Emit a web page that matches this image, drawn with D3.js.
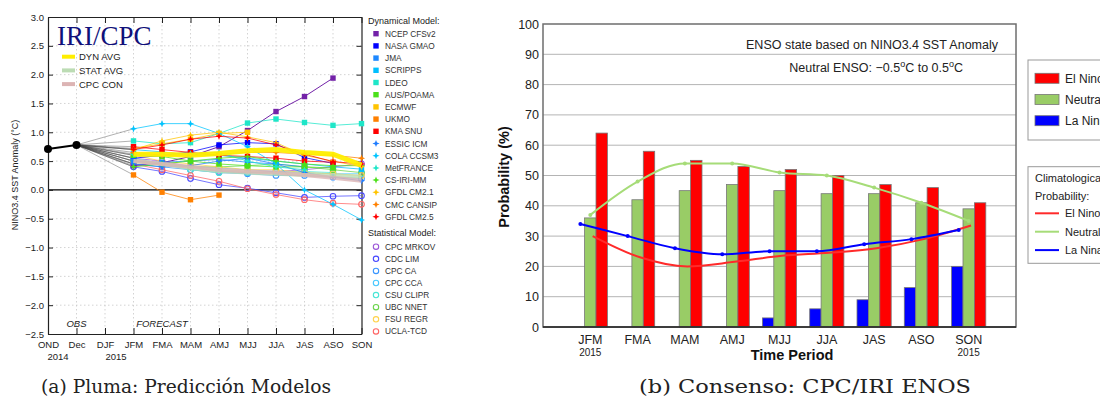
<!DOCTYPE html>
<html>
<head>
<meta charset="utf-8">
<script src="https://cdn.jsdelivr.net/npm/d3@7"></script>
<style>
body { margin: 0; background: #fff; }
svg { font-family: "Liberation Sans", Arial, sans-serif; }
</style>
</head>
<body>
<svg id="fig" width="1100" height="398"></svg>
<script>
// ---- panel (a): plume data ----
const plumeMonths = ['OND', 'Dec', 'DJF', 'JFM', 'FMA', 'MAM', 'AMJ', 'MJJ', 'JJA', 'JAS', 'ASO', 'SON'];
const plumeTicks = [3.0, 2.5, 2.0, 1.5, 1.0, 0.5, 0.0, -0.5, -1.0, -1.5, -2.0, -2.5];
const obsValues = [0.71, 0.78];            // OND, Dec
const forecastStart = 3;                   // first forecast season = JFM

const dynNames = ['NCEP CFSv2', 'NASA GMAO', 'JMA', 'SCRIPPS', 'LDEO', 'AUS/POAMA', 'ECMWF', 'UKMO', 'KMA SNU',
  'ESSIC ICM', 'COLA CCSM3', 'MetFRANCE', 'CS-IRI-MM', 'GFDL CM2.1', 'CMC CANSIP', 'GFDL CM2.5'];
const dynColors = ['#7322a8', '#0000ff', '#1e88ff', '#00bfff', '#1ee6c8', '#4ce01a', '#ffc400', '#ff8000', '#ff0000',
  '#1e7cff', '#00c4ff', '#1ee6c8', '#4ce01a', '#ffc400', '#ff8000', '#ff0000'];
const dynValues = [
  [0.42, 0.47, 0.58, 0.75, 1.03, 1.36, 1.62, 1.94, null],
  [0.55, 0.60, 0.66, 0.78, 0.82, 0.80, 0.56, 0.46, null],
  [0.50, 0.48, 0.50, 0.53, 0.48, 0.45, 0.40, null, null],
  [0.70, 0.66, 0.60, 0.60, 0.55, 0.50, 0.45, 0.40, 0.36],
  [0.85, 0.80, 0.82, 0.98, 1.16, 1.23, 1.17, 1.12, 1.15],
  [0.60, 0.58, 0.50, 0.45, 0.42, 0.40, 0.40, 0.38, null],
  [0.72, 0.80, 0.88, 0.98, 1.00, null, null, null, null],
  [0.26, -0.04, -0.17, -0.09, null, null, null, null, null],
  [0.75, 0.70, 0.65, 0.60, 0.58, 0.55, 0.50, 0.48, null],
  [0.45, 0.40, 0.42, 0.50, 0.55, 0.45, 0.30, 0.22, 0.16],
  [1.06, 1.15, 1.15, 0.98, 0.75, 0.45, 0.00, -0.25, -0.52],
  [0.62, 0.60, 0.63, 0.65, 0.50, 0.40, 0.35, null, null],
  [0.40, 0.45, 0.50, 0.55, 0.58, 0.50, 0.45, 0.42, 0.42],
  [0.70, 0.85, 0.95, 1.00, 0.92, 0.82, 0.60, 0.50, 0.40],
  [0.65, 0.60, 0.60, 0.62, 0.65, 0.65, 0.62, 0.60, 0.55],
  [0.70, 0.78, 0.88, 0.93, 0.90, 0.78, 0.62, 0.49, 0.45]
];

const statNames = ['CPC MRKOV', 'CDC LIM', 'CPC CA', 'CPC CCA', 'CSU CLIPR', 'UBC NNET', 'FSU REGR', 'UCLA-TCD'];
const statColors = ['#9a55d8', '#4848ff', '#3a96ff', '#48c8ff', '#48e6d6', '#6ad44a', '#ffd24a', '#ff6464'];
const statValues = [
  [0.55, 0.50, 0.40, 0.32, 0.30, 0.32, 0.35, 0.40, 0.45],
  [0.40, 0.32, 0.20, 0.09, 0.03, -0.05, -0.13, -0.11, -0.10],
  [0.45, 0.40, 0.35, 0.30, 0.28, 0.25, 0.25, 0.22, 0.20],
  [0.50, 0.45, 0.40, 0.38, 0.35, 0.32, 0.30, 0.28, 0.28],
  [0.55, 0.45, 0.35, 0.30, 0.30, 0.30, 0.32, 0.30, null],
  [0.50, 0.45, 0.40, 0.40, 0.42, 0.45, 0.40, 0.35, 0.30],
  [0.60, 0.50, 0.45, 0.40, 0.35, 0.35, 0.30, 0.28, 0.25],
  [0.45, 0.35, 0.25, 0.15, 0.02, -0.08, -0.17, -0.23, -0.25]
];

const avgNames = ['DYN AVG', 'STAT AVG', 'CPC CON'];
const avgColors = ['#ffee00', '#bcdcb4', '#dcb4b4'];
const avgValues = [
  [0.62, 0.62, 0.60, 0.63, 0.68, 0.70, 0.65, 0.62, 0.43],
  [0.50, 0.45, 0.38, 0.33, 0.30, 0.28, 0.26, 0.25, 0.23],
  [0.50, 0.45, 0.40, 0.35, 0.32, 0.30, 0.26, 0.21, 0.16]
];

// ---- panel (b): consensus data ----
const seasons = ['JFM', 'FMA', 'MAM', 'AMJ', 'MJJ', 'JJA', 'JAS', 'ASO', 'SON'];
const laNina = [0, 0, 0, 0, 3, 6, 9, 13, 20];
const neutral = [36, 42, 45, 47, 45, 44, 44, 41, 39];
const elNino = [64, 58, 55, 53, 52, 50, 47, 46, 41];
const climElNino = [30, 23, 20, 21.5, 23.5, 24.5, 26, 29, 33.5];
const climNeutral = [37, 48, 54, 54, 51, 50, 46, 41, 35];
const climLaNina = [34, 30, 26, 24, 25, 25, 27.3, 29, 32];
const probTicks = [0, 10, 20, 30, 40, 50, 60, 70, 80, 90, 100];

const svg = d3.select('#fig');

// =============== panel (a) ===============
const xL = d3.scaleLinear().domain([0, 11]).range([48, 361.5]);
const yL = d3.scaleLinear().domain([-2.5, 3]).range([334, 17]);
const pa = svg.append('g');

// dotted grid
pa.selectAll('.gy').data(plumeTicks.filter(d => d != 0 && d != 3 && d != -2.5)).enter().append('line')
  .attr('x1', xL(0)).attr('x2', xL(11)).attr('y1', d => yL(d)).attr('y2', d => yL(d))
  .attr('stroke', '#c8c8c8').attr('stroke-width', 0.8).attr('stroke-dasharray', '1.5,2.5');
pa.selectAll('.gx').data(d3.range(1, 11)).enter().append('line')
  .attr('x1', d => xL(d)).attr('x2', d => xL(d)).attr('y1', yL(3)).attr('y2', yL(-2.5))
  .attr('stroke', '#c8c8c8').attr('stroke-width', 0.8).attr('stroke-dasharray', '1.5,2.5');

// zero line
pa.append('line').attr('x1', xL(0)).attr('x2', xL(11)).attr('y1', yL(0)).attr('y2', yL(0))
  .attr('stroke', '#000').attr('stroke-width', 1.3);

// axes (ticks pointing inward)
function styleAxis(g) {
  g.select('.domain').attr('stroke', '#222').attr('stroke-width', 1.2);
  g.selectAll('.tick line').attr('stroke', '#222');
  g.selectAll('text').attr('fill', '#222').style('font-size', '9.5px')
    .style('font-family', '"Liberation Sans", Arial, sans-serif');
}
pa.append('g').attr('transform', `translate(${xL(0)},0)`)
  .call(d3.axisLeft(yL).tickValues(plumeTicks).tickFormat(d3.format('.1f')).tickSizeInner(-5).tickSizeOuter(0).tickPadding(4))
  .call(styleAxis);
pa.append('g').attr('transform', `translate(${xL(11)},0)`)
  .call(d3.axisRight(yL).tickValues(plumeTicks).tickFormat('').tickSizeInner(-5).tickSizeOuter(0))
  .call(styleAxis);
pa.append('g').attr('transform', `translate(0,${yL(-2.5)})`)
  .call(d3.axisBottom(xL).tickValues(d3.range(12)).tickFormat(i => plumeMonths[i]).tickSizeInner(-6).tickSizeOuter(0).tickPadding(7))
  .call(styleAxis);
pa.append('g').attr('transform', `translate(0,${yL(3)})`)
  .call(d3.axisTop(xL).tickValues(d3.range(12)).tickFormat('').tickSizeInner(-6).tickSizeOuter(0))
  .call(styleAxis);

pa.append('text').attr('x', 58).attr('y', 360).attr('text-anchor', 'middle').style('font-size', '9.5px').attr('fill', '#222').text('2014');
pa.append('text').attr('x', 116).attr('y', 360).attr('text-anchor', 'middle').style('font-size', '9.5px').attr('fill', '#222').text('2015');
pa.append('text').attr('x', xL(1)).attr('y', 327).attr('text-anchor', 'middle').style('font-size', '9.5px')
  .style('font-style', 'italic').attr('fill', '#222').text('OBS');
pa.append('text').attr('x', 162).attr('y', 327).attr('text-anchor', 'middle').style('font-size', '9.5px')
  .style('font-style', 'italic').attr('fill', '#222').text('FORECAST');

pa.append('text').attr('transform', 'translate(18,175) rotate(-90)').attr('text-anchor', 'middle')
  .style('font-size', '9px').attr('fill', '#222').text('NINO3.4 SST Anomaly (\u00B0C)');

// model lines
const lineL = d3.line().defined(d => d.v != null).x(d => xL(d.i)).y(d => yL(d.v));
const toPts = vals => vals.map((v, k) => ({ i: forecastStart + k, v: v }));

const allFirst = dynValues.concat(statValues).map(v => v[0]);
pa.selectAll('.fan').data(allFirst).enter().append('line')
  .attr('x1', xL(1)).attr('y1', yL(obsValues[1]))
  .attr('x2', xL(forecastStart)).attr('y2', d => yL(d))
  .attr('stroke', '#444').attr('stroke-width', 0.6).attr('opacity', 0.7);

const starPath = 'M0,-3.6L1,-1L3.6,0L1,1L0,3.6L-1,1L-3.6,0L-1,-1Z';

statValues.forEach((vals, m) => {
  const pts = toPts(vals);
  pa.append('path').attr('d', lineL(pts)).attr('fill', 'none')
    .attr('stroke', statColors[m]).attr('stroke-width', 1).attr('opacity', 0.75);
  pa.selectAll(null).data(pts.filter(d => d.v != null)).enter().append('circle')
    .attr('cx', d => xL(d.i)).attr('cy', d => yL(d.v)).attr('r', 2.8)
    .attr('fill', 'none').attr('stroke', statColors[m]).attr('stroke-width', 1.1);
});

dynValues.forEach((vals, m) => {
  const pts = toPts(vals);
  pa.append('path').attr('d', lineL(pts)).attr('fill', 'none')
    .attr('stroke', dynColors[m]).attr('stroke-width', 1).attr('opacity', m == 0 ? 1 : 0.75);
  const pv = pts.filter(d => d.v != null);
  if (m < 9) {
    pa.selectAll(null).data(pv).enter().append('rect')
      .attr('x', d => xL(d.i) - 2.7).attr('y', d => yL(d.v) - 2.7).attr('width', 5.4).attr('height', 5.4)
      .attr('fill', dynColors[m]);
  } else {
    pa.selectAll(null).data(pv).enter().append('path')
      .attr('transform', d => `translate(${xL(d.i)},${yL(d.v)})`).attr('d', starPath)
      .attr('fill', dynColors[m]);
  }
});

avgValues.forEach((vals, m) => {
  pa.append('path').attr('d', lineL(toPts(vals))).attr('fill', 'none')
    .attr('stroke', avgColors[m]).attr('stroke-width', m == 0 ? 5 : 4).attr('opacity', m == 0 ? 0.95 : 0.8);
});

// observations
const obsPts = obsValues.map((v, i) => ({ i: i, v: v }));
pa.append('path').attr('d', lineL(obsPts)).attr('stroke', '#000').attr('stroke-width', 2).attr('fill', 'none');
pa.selectAll('.obs').data(obsPts).enter().append('circle')
  .attr('cx', d => xL(d.i)).attr('cy', d => yL(d.v)).attr('r', 4).attr('fill', '#000');

// title + average legend
pa.append('text').attr('x', 57).attr('y', 45).style('font-family', '"Liberation Serif", "Times New Roman", serif')
  .style('font-size', '27px').attr('fill', '#10107a').text('IRI/CPC');
avgNames.forEach((n, k) => {
  const yy = 56.7 + k * 13.7;
  pa.append('line').attr('x1', 62).attr('x2', 75).attr('y1', yy).attr('y2', yy)
    .attr('stroke', avgColors[k]).attr('stroke-width', 4);
  pa.append('text').attr('x', 79).attr('y', yy + 3.5).style('font-size', '9.5px').attr('fill', '#222').text(n);
});

// model legend
const lg = svg.append('g');
lg.append('text').attr('x', 368).attr('y', 24).style('font-size', '9px').attr('fill', '#222').text('Dynamical Model:');
dynNames.forEach((n, k) => {
  const yy = 33.7 + k * 12.2;
  if (k < 9) {
    lg.append('rect').attr('x', 373.3).attr('y', yy - 2.7).attr('width', 5.4).attr('height', 5.4).attr('fill', dynColors[k]);
  } else {
    lg.append('path').attr('transform', `translate(376,${yy})`).attr('d', starPath).attr('fill', dynColors[k]);
  }
  lg.append('text').attr('x', 385).attr('y', yy + 3).style('font-size', '8.3px').attr('fill', '#333').text(n);
});
lg.append('text').attr('x', 368).attr('y', 236).style('font-size', '9px').attr('fill', '#222').text('Statistical Model:');
statNames.forEach((n, k) => {
  const yy = 246.7 + k * 12.1;
  lg.append('circle').attr('cx', 376).attr('cy', yy).attr('r', 2.7).attr('fill', 'none')
    .attr('stroke', statColors[k]).attr('stroke-width', 1.1);
  lg.append('text').attr('x', 385).attr('y', yy + 3).style('font-size', '8.3px').attr('fill', '#333').text(n);
});

// =============== panel (b) ===============
const xR = d3.scaleLinear().domain([0, 10]).range([543, 1016]);
const yR = d3.scaleLinear().domain([0, 100]).range([327, 24]);
const pb = svg.append('g');

pb.selectAll('.hg').data(probTicks.slice(1, -1)).enter().append('line')
  .attr('x1', xR(0)).attr('x2', xR(10)).attr('y1', d => yR(d)).attr('y2', d => yR(d))
  .attr('stroke', '#b4b4b4').attr('stroke-width', 1);

const yAxR = pb.append('g').attr('transform', `translate(${xR(0)},0)`)
  .call(d3.axisLeft(yR).tickValues(probTicks).tickSize(0).tickPadding(4));
yAxR.select('.domain').remove();
yAxR.selectAll('text').style('font-size', '12.5px').attr('fill', '#222')
  .style('font-family', '"Liberation Sans", Arial, sans-serif');

const barW = 11.4;
const groups = [
  { vals: laNina, fill: '#0000ff', off: -1.5 },
  { vals: neutral, fill: '#99cc66', off: -0.5 },
  { vals: elNino, fill: '#ff0000', off: 0.5 }
];
groups.forEach(g => {
  pb.selectAll(null).data(g.vals.map((v, i) => ({ i: i, v: v })).filter(d => d.v > 0)).enter().append('rect')
    .attr('x', d => xR(d.i + 1) + g.off * barW)
    .attr('y', d => yR(d.v)).attr('width', barW).attr('height', d => yR(0) - yR(d.v))
    .attr('fill', g.fill).attr('stroke', '#777').attr('stroke-width', 0.8);
});

// climatology lines
const climLine = d3.line().curve(d3.curveMonotoneX).x(d => d.x).y(d => yR(d.v));
const clims = [
  { vals: climElNino, color: '#ff2a2a', off: 0.05, dots: false },
  { vals: climNeutral, color: '#a6dc78', off: 0, dots: true },
  { vals: climLaNina, color: '#0000ff', off: -0.21, dots: true }
];
clims.forEach(c => {
  const pts = c.vals.map((v, i) => ({ x: xR(i + 1 + c.off), v: v }));
  pb.append('path').attr('d', climLine(pts)).attr('fill', 'none').attr('stroke', c.color).attr('stroke-width', 2);
  if (c.dots) {
    pb.selectAll(null).data(pts).enter().append('circle')
      .attr('cx', d => d.x).attr('cy', d => yR(d.v)).attr('r', 2).attr('fill', c.color);
  }
});

// frame
pb.append('rect').attr('x', xR(0)).attr('y', yR(100)).attr('width', xR(10) - xR(0)).attr('height', yR(0) - yR(100))
  .attr('fill', 'none').attr('stroke', '#6e6e6e').attr('stroke-width', 1.5);
pb.append('line').attr('x1', xR(0)).attr('x2', xR(10)).attr('y1', yR(0)).attr('y2', yR(0))
  .attr('stroke', '#222').attr('stroke-width', 1.5);

// x labels
pb.selectAll('.xl').data(seasons).enter().append('text')
  .attr('x', (d, i) => xR(i + 1)).attr('y', 344).attr('text-anchor', 'middle')
  .style('font-size', '12.5px').attr('fill', '#222').text(d => d);
[0, 8].forEach(i => {
  pb.append('text').attr('x', xR(i + 1)).attr('y', 356).attr('text-anchor', 'middle')
    .style('font-size', '10px').attr('fill', '#222').text('2015');
});
pb.append('text').attr('x', 792).attr('y', 360).attr('text-anchor', 'middle')
  .style('font-size', '14.5px').style('font-weight', 'bold').attr('fill', '#111').text('Time Period');
pb.append('text').attr('transform', 'translate(509,177) rotate(-90)').attr('text-anchor', 'middle')
  .style('font-size', '14.5px').style('font-weight', 'bold').attr('fill', '#111').text('Probability (%)');

// annotations
pb.append('text').attr('x', 998).attr('y', 48.5).attr('text-anchor', 'end')
  .style('font-size', '12.5px').attr('fill', '#222').text('ENSO state based on NINO3.4 SST Anomaly');
const ann = pb.append('text').attr('x', 963).attr('y', 71.5).attr('text-anchor', 'end')
  .style('font-size', '12.5px').attr('fill', '#222');
ann.append('tspan').text('Neutral ENSO: \u22120.5');
ann.append('tspan').attr('dy', -5).style('font-size', '9px').text('o');
ann.append('tspan').attr('dy', 5).text('C to 0.5');
ann.append('tspan').attr('dy', -5).style('font-size', '9px').text('o');
ann.append('tspan').attr('dy', 5).text('C');

// legends (cut off by the page edge, as in the source figure)
const lb = svg.append('g');
lb.append('rect').attr('x', 1028).attr('y', 60).attr('width', 100).attr('height', 80)
  .attr('fill', '#fff').attr('stroke', '#999').attr('stroke-width', 1);
const legNames = ['El Nino', 'Neutral', 'La Nina'];
const legFills = ['#ff0000', '#99cc66', '#0000ff'];
legNames.forEach((n, k) => {
  const yy = 73.3 + k * 21.2;
  lb.append('rect').attr('x', 1035).attr('y', yy).attr('width', 24).attr('height', 10)
    .attr('fill', legFills[k]).attr('stroke', '#777').attr('stroke-width', 0.8);
  lb.append('text').attr('x', 1065).attr('y', yy + 9.5).style('font-size', '12px').attr('fill', '#222').text(n);
});
lb.append('rect').attr('x', 1028).attr('y', 166.7).attr('width', 100).attr('height', 96.6)
  .attr('fill', '#fff').attr('stroke', '#999').attr('stroke-width', 1);
lb.append('text').attr('x', 1035).attr('y', 182).style('font-size', '11px').attr('fill', '#222').text('Climatological');
lb.append('text').attr('x', 1035).attr('y', 199.5).style('font-size', '11px').attr('fill', '#222').text('Probability:');
const legLine = ['#ff2a2a', '#a6dc78', '#0000ff'];
legNames.forEach((n, k) => {
  const yy = 213.3 + k * 18.4;
  lb.append('line').attr('x1', 1035).attr('x2', 1059).attr('y1', yy).attr('y2', yy)
    .attr('stroke', legLine[k]).attr('stroke-width', 2);
  lb.append('text').attr('x', 1065).attr('y', yy + 4).style('font-size', '11px').attr('fill', '#222').text(n);
});

// captions
const cap = svg.append('g').style('font-family', '"DejaVu Serif", "Liberation Serif", serif')
  .style('font-size', '18px').attr('fill', '#222');
cap.append('text').attr('x', 186).attr('y', 393).attr('text-anchor', 'middle')
  .attr('textLength', 290).attr('lengthAdjust', 'spacingAndGlyphs').text('(a) Pluma: Predicción Modelos');
cap.append('text').attr('x', 805).attr('y', 393).attr('text-anchor', 'middle')
  .attr('textLength', 332).attr('lengthAdjust', 'spacingAndGlyphs').text('(b) Consenso: CPC/IRI ENOS');
</script>
</body>
</html>
